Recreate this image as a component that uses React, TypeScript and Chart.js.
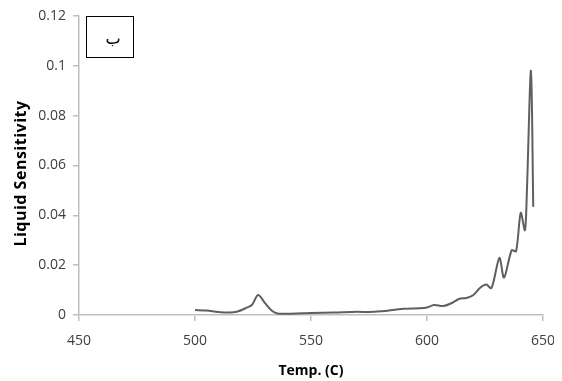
import React, { useEffect, useRef } from "react";
import { Chart, registerables } from "chart.js";

Chart.register(...registerables);

const temps = [500, 505, 510, 515, 518, 522, 524.5, 527.2, 530, 533, 535.5, 540, 550, 560, 570, 575, 580, 590, 597, 600, 603, 607, 610, 614, 617, 620, 622.8, 625.5, 627.8, 631.2, 633.2, 636.5, 638.4, 640.4, 642.2, 643, 644.8, 645.8];
const sensitivity = [0.002, 0.0018, 0.0012, 0.001, 0.0013, 0.0028, 0.004, 0.008, 0.005, 0.0018, 0.0006, 0.0005, 0.0008, 0.001, 0.0013, 0.0012, 0.0015, 0.0025, 0.0027, 0.003, 0.004, 0.0036, 0.0045, 0.0065, 0.0068, 0.008, 0.0108, 0.0122, 0.0108, 0.0229, 0.015, 0.026, 0.0256, 0.041, 0.034, 0.048, 0.098, 0.0434];

const xTicks = [450, 500, 550, 600, 650];
const yTicks = [0, 0.02, 0.04, 0.06, 0.08, 0.1, 0.12];

const yTitle = "Liquid Sensitivity";
const xTitle = "Temp. (C)";

const FONT = "'Open Sans', sans-serif";

const yTitlePlugin = {
  id: "yTitlePlugin",
  afterDraw(chart: any) {
    const { ctx, chartArea } = chart;
    ctx.save();
    const cy = (chartArea.top + chartArea.bottom) / 2 + 8;
    ctx.translate(13, cy);
    ctx.rotate(-Math.PI / 2);
    ctx.font = `bold 16px ${FONT}`;
    try {
      (ctx as any).letterSpacing = "0.5px";
    } catch (e) {}
    ctx.fillStyle = "#000";
    ctx.textAlign = "center";
    ctx.textBaseline = "middle";
    ctx.fillText(yTitle, 0, 0);
    ctx.restore();
  },
};

export default function App() {
  const ref = useRef<HTMLCanvasElement>(null);
  useEffect(() => {
    if (!ref.current) return;
    const chart = new Chart(ref.current, {
      type: "scatter",
      data: {
        datasets: [
          {
            data: temps.map((t, i) => ({ x: t, y: sensitivity[i] })),
            showLine: true,
            borderColor: "#5f5f5f",
            borderWidth: 2,
            pointRadius: 0,
            tension: 0.3,
          },
        ],
      },
      plugins: [yTitlePlugin],
      options: {
        animation: false,
        responsive: false,
        layout: { padding: { top: 0, right: 0, left: 0, bottom: 0 } },
        plugins: { legend: { display: false }, tooltip: { enabled: false } },
        scales: {
          x: {
            type: "linear",
            min: 450,
            max: 650,
            afterBuildTicks: (s: any) => {
              s.ticks = xTicks.map((v) => ({ value: v }));
            },
            afterFit: (s: any) => {
              s.height = 66;
              s.paddingRight = 11;
              s.paddingLeft = 0;
            },
            border: { color: "#bfbfbf", width: 1.5 },
            grid: { drawOnChartArea: false, drawTicks: true, tickLength: 6, color: "#bfbfbf", lineWidth: 1.5 },
            ticks: { color: "#404040", font: { family: FONT, size: 14 }, padding: 12, maxRotation: 0 },
            title: { display: true, text: xTitle, color: "#000", font: { family: FONT, size: 14, weight: "bold" }, padding: { top: 4, bottom: 2 } },
          },
          y: {
            min: 0,
            max: 0.12,
            afterBuildTicks: (s: any) => {
              s.ticks = yTicks.map((v) => ({ value: v }));
            },
            afterFit: (s: any) => {
              s.width = 71;
              s.paddingTop = 8;
              s.paddingBottom = 0;
            },
            border: { color: "#bfbfbf", width: 1.5 },
            grid: { drawOnChartArea: false, drawTicks: true, tickLength: 6, color: "#bfbfbf", lineWidth: 1.5 },
            ticks: {
              color: "#404040",
              font: { family: FONT, size: 14 },
              padding: 7,
              callback: (v: any) => String(Math.round(Number(v) * 100) / 100),
            },
            title: { display: false },
          },
        },
      },
    });
    return () => chart.destroy();
  }, []);
  return (
    <div style={{ position: "relative", width: 546, height: 373 }}>
      <canvas ref={ref} width={546} height={373} style={{ display: "block" }} />
      <div
        style={{
          position: "absolute",
          left: 78,
          top: 8,
          width: 46,
          height: 40,
          border: "1.5px solid #000",
          background: "#fff",
          fontFamily: "'DejaVu Sans', sans-serif",
          fontSize: 16,
          display: "flex",
          alignItems: "center",
          justifyContent: "center",
        }}
      >
        <span style={{ marginLeft: 6, marginTop: 2 }}>ب</span>
      </div>
    </div>
  );
}
